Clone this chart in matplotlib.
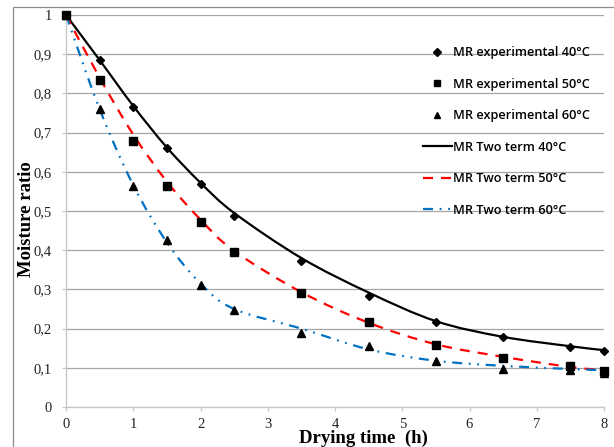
import matplotlib as mpl
mpl.use('Agg')
import matplotlib.pyplot as plt
from matplotlib.path import Path
from matplotlib.patches import PathPatch, Rectangle
from matplotlib.lines import Line2D

# drying time (h)
t = [0, 0.5, 1, 1.5, 2, 2.5, 3.5, 4.5, 5.5, 6.5, 7.5, 8]

# experimental moisture ratio
mr_exp_40 = [1.0, 0.885, 0.765, 0.66, 0.57, 0.487, 0.372, 0.283, 0.218, 0.178, 0.154, 0.144]
mr_exp_50 = [1.0, 0.835, 0.678, 0.563, 0.473, 0.396, 0.292, 0.216, 0.159, 0.125, 0.104, 0.092]
mr_exp_60 = [1.0, 0.76, 0.565, 0.425, 0.31, 0.248, 0.19, 0.156, 0.117, 0.098, 0.094, 0.086]

# two term model predictions
mr_tt_40 = [1.0, 0.885, 0.768, 0.662, 0.572, 0.495, 0.38, 0.292, 0.219, 0.179, 0.155, 0.145]
mr_tt_50 = [1.0, 0.84, 0.695, 0.575, 0.478, 0.398, 0.293, 0.215, 0.16, 0.128, 0.102, 0.094]
mr_tt_60 = [1.0, 0.76, 0.566, 0.42, 0.315, 0.25, 0.2, 0.147, 0.118, 0.105, 0.097, 0.094]

yticks = [0, 0.1, 0.2, 0.3, 0.4, 0.5, 0.6, 0.7, 0.8, 0.9, 1]
ytick_labels = ['0', '0,1', '0,2', '0,3', '0,4', '0,5', '0,6', '0,7', '0,8', '0,9', '1']
xticks = [0, 1, 2, 3, 4, 5, 6, 7, 8]

GRID = '#a6a6a6'
serif = 'Liberation Serif'
sans = 'Open Sans'

DASH_50 = (0, (4.5, 3.6))
DASH_60 = (0, (4.5, 3, 0.8, 3, 0.8, 3))


def smooth_path(x, y):
    # spreadsheet-style smoothed line: cubic bezier through every point
    n = len(x)
    verts = [(x[0], y[0])]
    codes = [Path.MOVETO]
    for i in range(n - 1):
        x0, y0 = (x[i - 1], y[i - 1]) if i > 0 else (x[i], y[i])
        x1, y1 = x[i], y[i]
        x2, y2 = x[i + 1], y[i + 1]
        x3, y3 = (x[i + 2], y[i + 2]) if i + 2 < n else (x2, y2)
        c1 = (x1 + (x2 - x0) / 6.0, y1 + (y2 - y0) / 6.0)
        c2 = (x2 - (x3 - x1) / 6.0, y2 - (y3 - y1) / 6.0)
        verts += [c1, c2, (x2, y2)]
        codes += [Path.CURVE4] * 3
    return Path(verts, codes)


fig = plt.figure(figsize=(6.14, 4.47), dpi=100)
ax = fig.add_axes([66 / 614, 1 - 407 / 447, 538 / 614, 392 / 447])

# outer chart border (runs off the right and bottom edges)
fig.patches.append(Rectangle((13 / 614, -0.1), 1.2, 1 - 7 / 447 + 0.1,
                             transform=fig.transFigure, fill=False,
                             edgecolor='#8c8c8c', linewidth=0.9))

ax.set_xlim(0, 8)
ax.set_ylim(0, 1)
ax.set_yticks(yticks)
ax.set_yticklabels(ytick_labels)
ax.set_xticks(xticks)
ax.yaxis.grid(True, color=GRID, linewidth=0.9)
ax.set_axisbelow(True)
for s in ['top', 'right']:
    ax.spines[s].set_visible(False)
for s in ['left', 'bottom']:
    ax.spines[s].set_color('#c8c8c8')
    ax.spines[s].set_linewidth(1.0)
ax.tick_params(axis='both', color='#c8c8c8', length=3, width=0.9,
               labelsize=10.5, labelcolor='#222222')
ax.tick_params(axis='y', pad=7)
ax.tick_params(axis='x', pad=5)
for lab in ax.get_xticklabels() + ax.get_yticklabels():
    lab.set_fontfamily(serif)

styles = [
    (mr_tt_40, 'black', '-'),
    (mr_tt_50, '#ff0000', DASH_50),
    (mr_tt_60, '#0070c0', DASH_60),
]
for vals, col, ls in styles:
    p = PathPatch(smooth_path(t, vals), fill=False, edgecolor=col, linewidth=1.6,
                  linestyle=ls, clip_on=False)
    ax.add_patch(p)

ax.plot(t, mr_exp_40, linestyle='none', marker='D', markersize=4, color='black', clip_on=False, zorder=5)
ax.plot(t, mr_exp_50, linestyle='none', marker='s', markersize=5.5, color='black', clip_on=False, zorder=5)
ax.plot(t, mr_exp_60, linestyle='none', marker='^', markersize=5.5, color='black', clip_on=False, zorder=5)

handles = [
    Line2D([], [], linestyle='none', marker='D', markersize=4, color='black'),
    Line2D([], [], linestyle='none', marker='s', markersize=5, color='black'),
    Line2D([], [], linestyle='none', marker='^', markersize=5, color='black'),
    Line2D([], [], color='black', linewidth=1.6),
    Line2D([], [], color='#ff0000', linewidth=1.6, linestyle=DASH_50),
    Line2D([], [], color='#0070c0', linewidth=1.6, linestyle=DASH_60),
]
labels = ['MR experimental 40°C', 'MR experimental 50°C', 'MR experimental 60°C',
          'MR Two term 40°C', 'MR Two term 50°C', 'MR Two term 60°C']
leg = ax.legend(handles, labels, loc='upper left', bbox_to_anchor=(423 / 614, 1 - 46 / 447),
                bbox_transform=fig.transFigure, frameon=False,
                prop={'family': sans, 'size': 9.2, 'weight': 600},
                handlelength=2.25, handletextpad=0.12, labelspacing=1.45,
                borderpad=0, borderaxespad=0)

fig.text(27 / 614, 1 - 219 / 447, 'Moisture ratio', rotation=90, ha='center', va='center',
         family=serif, fontsize=13.5, fontweight='bold')
fig.text(363 / 614, 1 - 430 / 447, 'Drying time  (h)', ha='center', va='top',
         family=serif, fontsize=13.5, fontweight='bold')

plt.savefig('out.png', dpi=100)
